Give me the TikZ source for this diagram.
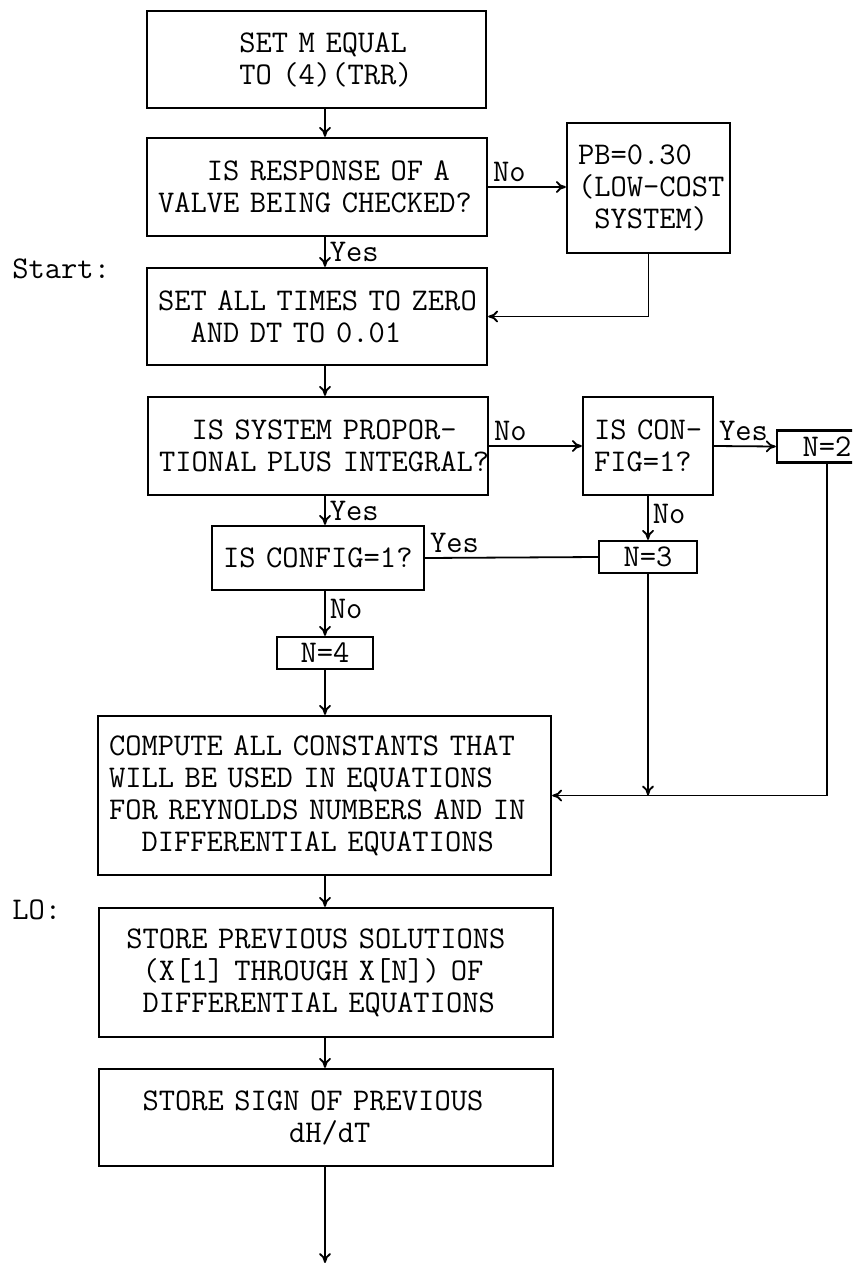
\documentclass[tikz,border=0pt]{standalone}
\usetikzlibrary{arrows.meta}

\begin{document}
\begin{tikzpicture}[
x=0.5pt, y=-0.5pt,
tt/.style={font=\ttfamily\fontsize{15.8pt}{16pt}\selectfont},
block/.style={tt, draw, line width=1.2pt, align=left, inner xsep=5.5pt, inner ysep=2pt},
numbox/.style={tt, draw, line width=1.2pt, align=center, inner sep=0pt, minimum height=16pt},
answer/.style={tt, inner sep=2pt},
arrow/.style={-{To[length=5pt,width=6pt]}, line width=0.9pt},
link/.style={line width=0.9pt} ]

\useasboundingbox (0,0) rectangle (852,1263);
\clip (0,0) rectangle (852,1263);
\coordinate (spine) at (325,0);

\node[block, text width=158.5pt, minimum height=48.5pt] (setm) at (316.5,59.5) {\phantom{XXXXX}SET M EQUAL\\\phantom{XXXXX}TO (4)(TRR)};

\node[block, text width=159pt, minimum height=49pt] (valve) at (317,187) {\phantom{XXX}IS RESPONSE OF A\\\mbox{VALVE BEING CHECKED?}};

\node[block, text width=70.5pt, minimum height=65pt] (pb) at (648.5,188) {PB=0.30\\\mbox{(LOW-COST}\\\phantom{X}SYSTEM)};

\node[block, text width=159pt, minimum height=48.5pt] (zero) at (317,316.5) {\mbox{SET ALL TIMES TO ZERO}\\\phantom{XX}AND DT TO 0.01};

\node[block, text width=159pt, minimum height=49pt] (propint) at (318,446) {\phantom{XX}IS SYSTEM PROPOR-\\\mbox{TIONAL PLUS INTEGRAL?}};

\node[block, text width=54pt, minimum height=49pt] (cfg1) at (648,446) {\mbox{IS CON-}\\FIG=1?};

\node[numbox, minimum width=50pt] (n2) at (827,446.5) {N=2};

\node[block, text width=95pt, minimum height=32pt] (cfg2) at (318,558) {\mbox{IS CONFIG=1?}};

\node[numbox, minimum width=49pt] (n3) at (648,557) {N=3};

\node[numbox, minimum width=48pt] (n4) at (325,653) {N=4};

\node[block, text width=215.5pt, minimum height=79.5pt] (compute) at (324.5,795.5) {COMPUTE ALL CONSTANTS THAT\\WILL BE USED IN EQUATIONS\\\mbox{FOR REYNOLDS NUMBERS AND IN}\\\phantom{XX}DIFFERENTIAL EQUATIONS};

\node[block, text width=216pt, minimum height=64.5pt] (prevsol) at (326,972.5) {\phantom{X}STORE PREVIOUS SOLUTIONS\\\phantom{XX}(X[1] THROUGH X[N]) OF\\\phantom{XX}DIFFERENTIAL EQUATIONS};

\node[block, text width=216pt, minimum height=48.5pt] (prevsign) at (326,1117.5) {\phantom{XX}STORE SIGN OF PREVIOUS\\\phantom{XXXXXXXXXXX}dH/dT};

\node[tt, anchor=base west, inner sep=0pt] (start) at (12,278) {Start:};
\node[tt, anchor=base west, inner sep=0pt] (lo) at (12,919) {LO:};

\coordinate (join) at (n3.south |- compute.east);
\coordinate (exit) at (325,1263);

\draw[arrow] (setm.south -| spine) -- (valve.north -| spine);
\draw[arrow] (valve.south -| spine) -- node[right, answer] {Yes} (zero.north -| spine);
\draw[arrow] (valve.east) -- node[pos=0, above right, answer] {No} (valve.east -| pb.west);
\draw[arrow] (pb.south) |- (zero.east);
\draw[arrow] (zero.south -| spine) -- (propint.north -| spine);
\draw[arrow] (propint.east) -- node[pos=0, above right, answer] {No} (cfg1.west);
\draw[arrow] (cfg1.east) -- node[pos=0, above right, answer] {Yes} (n2.west);
\draw[arrow] (cfg1.south) -- node[pos=0.4, right, answer] {No} (n3.north);
\draw[arrow] (propint.south -| spine) -- node[right, answer] {Yes} (cfg2.north -| spine);
\draw[link] (cfg2.east) -- node[pos=0, above right, answer] {Yes} (n3.west);
\draw[arrow] (cfg2.south -| spine) -- node[pos=0.4, right, answer] {No} (n4.north);
\draw[arrow] (n4.south) -- (compute.north -| spine);
\draw[arrow] (n2.south) |- (compute.east);
\draw[arrow] (n3.south) -- (join);
\draw[arrow] (compute.south -| spine) -- (prevsol.north -| spine);
\draw[arrow] (prevsol.south -| spine) -- (prevsign.north -| spine);
\draw[arrow] (prevsign.south -| spine) -- (exit);
\end{tikzpicture}
\end{document}
